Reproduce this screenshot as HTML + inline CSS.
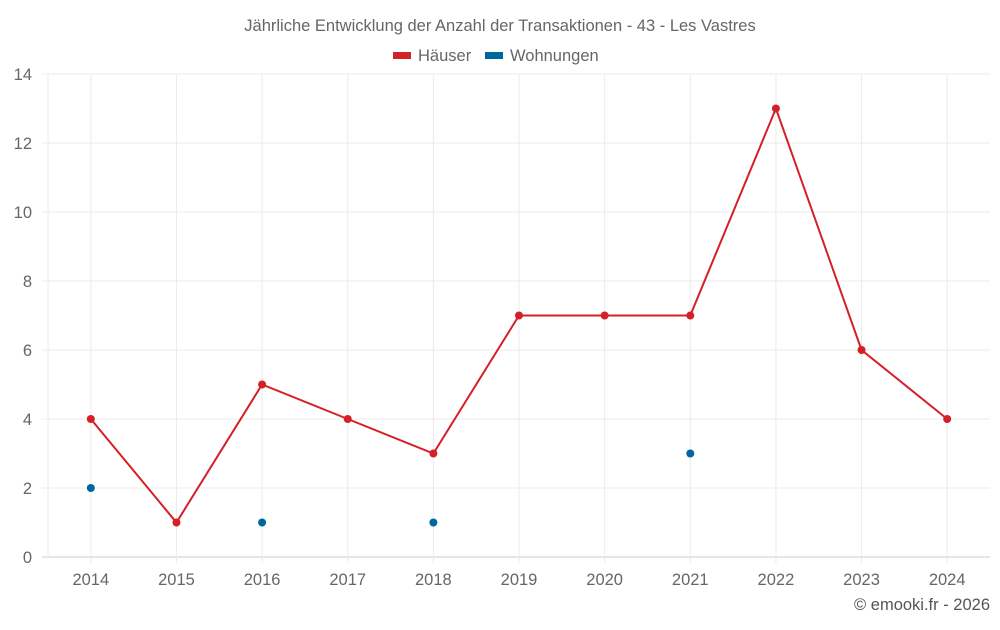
<!DOCTYPE html>
<html><head><meta charset="utf-8"><style>
body{margin:0;background:#fff;font-family:"Liberation Sans",sans-serif;}
svg text{font-family:"Liberation Sans",sans-serif;}
</style></head><body>
<svg id="chart" width="1000" height="625" xmlns="http://www.w3.org/2000/svg">
<text x="500" y="31" text-anchor="middle" font-size="16.5" fill="#666">Jährliche Entwicklung der Anzahl der Transaktionen - 43 - Les Vastres</text>
<g><rect x="393" y="52" width="18" height="7" fill="#d42027"/><text x="418" y="61" font-size="16.5" fill="#666">Häuser</text></g>
<g><rect x="485" y="52" width="18" height="7" fill="#00679e"/><text x="510" y="61" font-size="16.5" fill="#666">Wohnungen</text></g>
<g id="grid"></g><g id="axes"></g><g id="series"></g>
<text x="990" y="610" text-anchor="end" font-size="16.5" fill="#555">© emooki.fr - 2026</text>
</svg>
<script>
const categories=["2014","2015","2016","2017","2018","2019","2020","2021","2022","2023","2024"];
const haeuser=[4,1,5,4,3,7,7,7,13,6,4];
const wohnungen=[2,null,1,null,1,null,null,3,null,null,null];
const yTicks=[0,2,4,6,8,10,12,14];
const NS="http://www.w3.org/2000/svg";
const L=48,R=990,T=74,B=557,yMax=14;
const bw=(R-L)/categories.length;
const x=i=>L+bw*(i+0.5);
const y=v=>B-(v/yMax)*(B-T);
function mk(tag,attrs,parent){const e=document.createElementNS(NS,tag);for(const k in attrs)e.setAttribute(k,attrs[k]);document.getElementById(parent).appendChild(e);return e;}
yTicks.forEach(t=>{
 const l=mk('line',{x1:42,x2:R,y1:y(t),y2:y(t),stroke:t===0?'#ccc':'#ebebeb','stroke-width':1},'grid');
 
 
 const tx=mk('text',{x:32,y:y(t)+6,'text-anchor':'end','font-size':16.5,fill:'#666'},'axes');tx.textContent=t;
 
 
});
const gl=mk('line',{x1:L,x2:L,y1:T,y2:B,stroke:'#ebebeb'},'grid');


categories.forEach((c,i)=>{
 const g=mk('line',{x1:x(i),x2:x(i),y1:T,y2:B+6,stroke:'#ebebeb'},'grid');
 
 
 const tx=mk('text',{x:x(i),y:585,'text-anchor':'middle','font-size':16.5,fill:'#666'},'axes');tx.textContent=c;
 
 
});
const pl=mk('polyline',{points:haeuser.map((v,i)=>x(i)+','+y(v)).join(' '),fill:'none',stroke:'#d42027','stroke-width':2},'series');


haeuser.forEach((v,i)=>{const c=mk('circle',{cx:x(i),cy:y(v),r:4,fill:'#d42027'},'series');
 
 });
wohnungen.forEach((v,i)=>{if(v==null)return;const c=mk('circle',{cx:x(i),cy:y(v),r:4,fill:'#00679e'},'series');
 
 });
</script>
</body></html>
